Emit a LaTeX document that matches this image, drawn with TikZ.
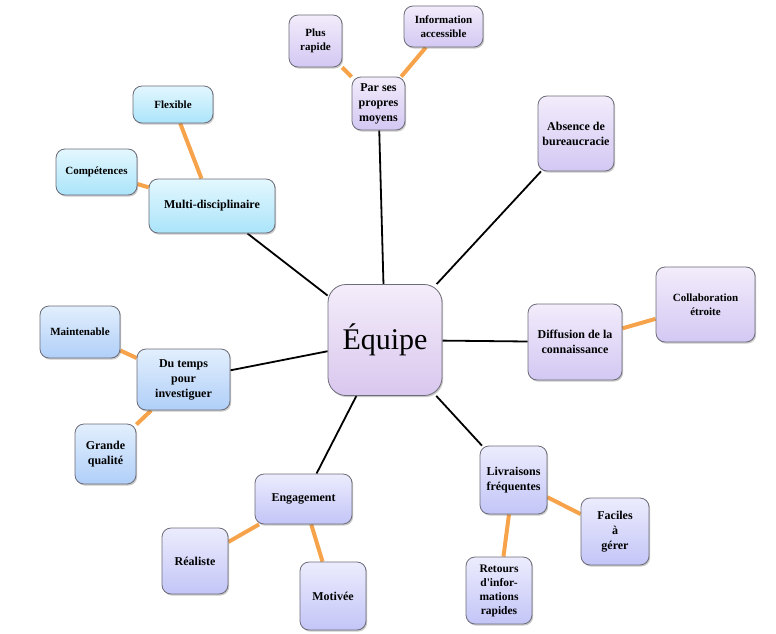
\documentclass[tikz,border=0pt]{standalone}
\usepackage{fontspec}
\setmainfont{Liberation Serif}[Ligatures=TeXOff]
\usetikzlibrary{shadows,backgrounds}
\definecolor{orangeline}{HTML}{F6A34B}
\definecolor{boxborder}{HTML}{6C6C78}
\definecolor{pTop}{HTML}{F2ECFB}
\definecolor{pBot}{HTML}{D3C8F3}
\definecolor{eTop}{HTML}{F4EDFA}
\definecolor{eBot}{HTML}{D9C7EE}
\definecolor{vTop}{HTML}{ECECFD}
\definecolor{vBot}{HTML}{C3C5F7}
\definecolor{bTop}{HTML}{E2EFFD}
\definecolor{bBot}{HTML}{B0CFF8}
\definecolor{cTop}{HTML}{E3F7FE}
\definecolor{cBot}{HTML}{ABE4FA}
\tikzset{
  box/.style={draw=boxborder, line width=0.8pt, rounded corners=9pt, align=center,
    font=\bfseries\fontsize{12}{15}\selectfont, inner sep=2pt,
    drop shadow={opacity=0.3, shadow xshift=1.2pt, shadow yshift=-1.6pt, fill=black!70}},
  smallfont/.style={font=\bfseries\fontsize{11}{14}\selectfont},
  purplebox/.style={box, top color=pTop, bottom color=pBot},
  centerbox/.style={box, top color=eTop, bottom color=eBot},
  violetbox/.style={box, top color=vTop, bottom color=vBot},
  bluebox/.style={box, top color=bTop, bottom color=bBot},
  cyanbox/.style={box, top color=cTop, bottom color=cBot},
  mainlink/.style={line width=1.8pt, black},
  sublink/.style={line width=4pt, orangeline},
}
\begin{document}
\begin{tikzpicture}[x=1pt,y=-1pt]
\useasboundingbox (0,0) rectangle (776,634);
% centre
\node[centerbox, minimum width=114pt, minimum height=111pt, rounded corners=18pt,
  font=\fontsize{30}{36}\selectfont] (equipe) at (385,340) {Équipe};
% top
\node[purplebox, minimum width=53pt, minimum height=53pt] (moyens) at (378.5,103.5) {Par ses\\propres\\moyens};
\node[purplebox, smallfont, minimum width=53pt, minimum height=52pt] (rapide) at (315.5,41) {Plus\\rapide};
\node[purplebox, smallfont, minimum width=79pt, minimum height=41pt] (info) at (443.5,26.5) {Information\\accessible};
\node[purplebox, minimum width=76pt, minimum height=75pt] (absence) at (576,133.5) {Absence de\\bureaucracie};
% upper left
\node[cyanbox, minimum width=126pt, minimum height=54pt] (multi) at (212,206) {Multi-disciplinaire};
\node[cyanbox, smallfont, minimum width=80pt, minimum height=37pt] (flex) at (173,104.5) {Flexible};
\node[cyanbox, smallfont, minimum width=81pt, minimum height=46pt] (comp) at (96.5,172) {Compétences};
% right
\node[purplebox, minimum width=94pt, minimum height=76pt] (diff) at (575,342) {Diffusion de la\\connaissance};
\node[purplebox, smallfont, minimum width=99pt, minimum height=75pt] (collab) at (705.5,304.5) {Collaboration\\étroite};
% left
\node[bluebox, minimum width=93pt, minimum height=61pt] (temps) at (183.5,379.5) {Du temps\\pour\\investiguer};
\node[bluebox, smallfont, minimum width=80pt, minimum height=52pt] (maint) at (80,332) {Maintenable};
\node[bluebox, minimum width=61pt, minimum height=60pt] (qual) at (105.5,454) {Grande\\qualité};
% bottom left
\node[violetbox, minimum width=97pt, minimum height=50pt] (engag) at (303.5,499) {Engagement};
\node[violetbox, minimum width=66pt, minimum height=66pt] (real) at (195,561) {Réaliste};
\node[violetbox, minimum width=66pt, minimum height=68pt] (motiv) at (333,596) {Motivée};
% bottom right
\node[violetbox, minimum width=67pt, minimum height=68pt] (livr) at (513.5,480) {Livraisons\\fréquentes};
\node[violetbox, minimum width=68pt, minimum height=67pt] (fac) at (615,531.5) {Faciles\\à\\gérer};
\node[violetbox, font=\bfseries\fontsize{11.5}{14}\selectfont, minimum width=66pt, minimum height=67pt] (ret) at (499,590.5) {Retours\\d'infor-\\mations\\rapides};
% connectors
\begin{scope}[on background layer]
\draw[mainlink] (equipe) -- (moyens);
\draw[mainlink] (equipe) -- (absence);
\draw[mainlink] (equipe) -- (multi);
\draw[mainlink] (equipe) -- (diff);
\draw[mainlink] (equipe) -- (temps);
\draw[mainlink] (equipe) -- (engag);
\draw[mainlink] (equipe) -- (livr);
\draw[sublink] (moyens) -- (rapide);
\draw[sublink] (moyens) -- (info);
\draw[sublink] (multi) -- (flex);
\draw[sublink] (multi) -- (comp);
\draw[sublink] (diff) -- (collab);
\draw[sublink] (temps) -- (maint);
\draw[sublink] (temps) -- (qual);
\draw[sublink] (engag) -- (real);
\draw[sublink] (engag) -- (motiv);
\draw[sublink] (livr) -- (fac);
\draw[sublink] (livr) -- (ret);
\end{scope}
\end{tikzpicture}
\end{document}
